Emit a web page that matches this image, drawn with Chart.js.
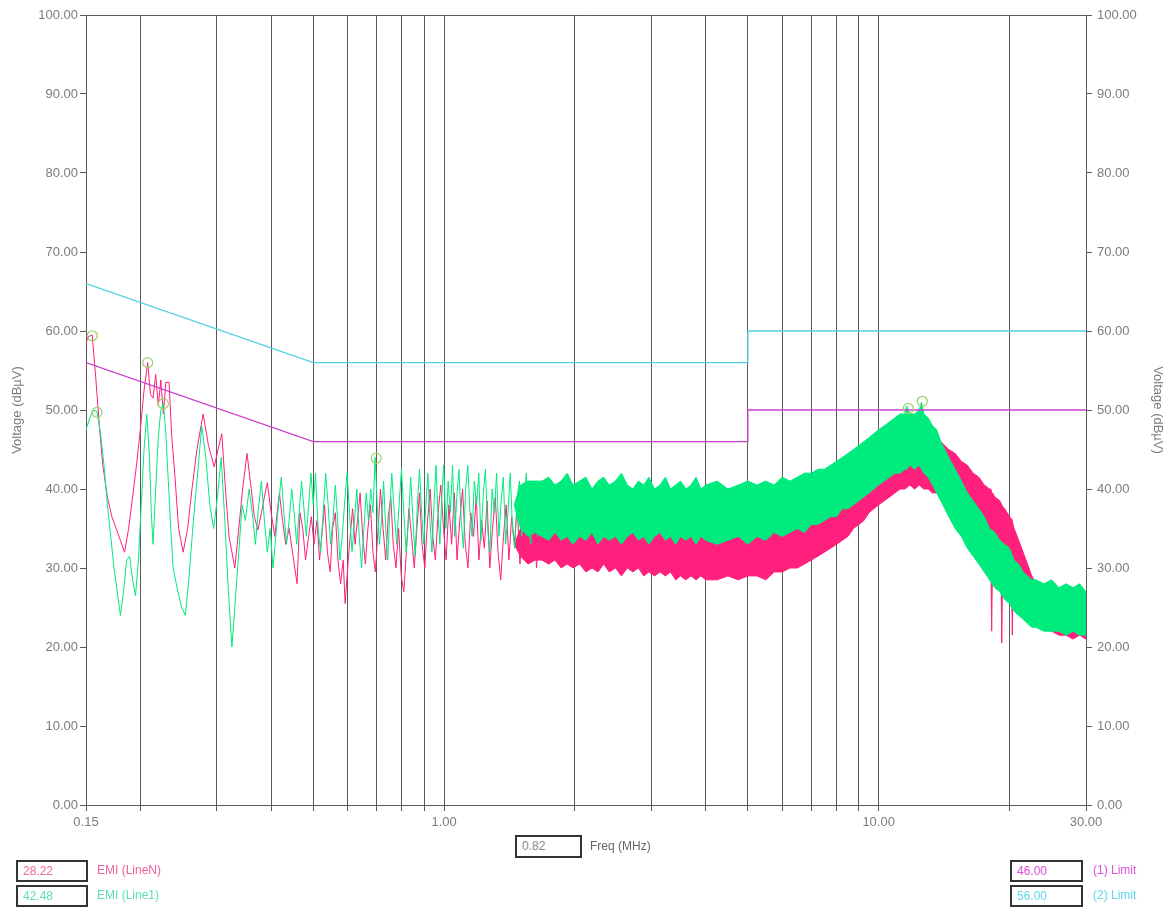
<!DOCTYPE html>
<html>
<head>
<meta charset="utf-8">
<script src="https://cdn.jsdelivr.net/npm/chart.js@4.4.1/dist/chart.umd.min.js"></script>
<style>
    body { margin: 0; background: #fff; overflow: hidden; }
    #wrap { position: relative; width: 1167px; height: 909px; }
    #grafico { position: absolute; left: 0; top: 0; }
    .box {
        position: absolute;
        box-sizing: border-box;
        border: 2px solid #333;
        background: #fff;
        font: 12px "Liberation Sans", Arial, sans-serif;
        padding: 2px 0 0 5px;
    }
    .txt {
        position: absolute;
        font: 12px "Liberation Sans", Arial, sans-serif;
    }
</style>
</head>
<body>
<div id="wrap">
    <canvas id="grafico" width="1167" height="909"></canvas>

    <div class="box" style="left:515px;top:835px;width:67px;height:23px;color:#888;">0.82</div>
    <div class="txt" style="left:590px;top:839px;color:#666;">Freq (MHz)</div>

    <div class="box" style="left:16px;top:860px;width:72px;height:22px;color:#f36aa0;">28.22</div>
    <div class="txt" style="left:97px;top:863px;color:#f0609a;">EMI (LineN)</div>
    <div class="box" style="left:16px;top:885px;width:72px;height:22px;color:#5fe0b0;">42.48</div>
    <div class="txt" style="left:97px;top:888px;color:#5fe0b0;">EMI (Line1)</div>

    <div class="box" style="left:1010px;top:860px;width:73px;height:22px;color:#e050e0;">46.00</div>
    <div class="txt" style="left:1093px;top:863px;color:#e050e0;">(1) Limit</div>
    <div class="box" style="left:1010px;top:885px;width:73px;height:22px;color:#60d8e8;">56.00</div>
    <div class="txt" style="left:1093px;top:888px;color:#60d8e8;">(2) Limit</div>
</div>

<script>
// eixo de frequencia (MHz) e niveis (dBuV)
const freqGrid = [0.15, 0.2, 0.3, 0.4, 0.5, 0.6, 0.7, 0.8, 0.9, 1, 2, 3, 4, 5, 6, 7, 8, 9, 10, 20, 30];
const freqLabels = [0.15, 1, 10, 30];
const levelTicks = [0, 10, 20, 30, 40, 50, 60, 70, 80, 90, 100];

// limites (1) media e (2) quase-pico
const limitAv = [[0.15, 56], [0.5, 46], [5, 46], [5, 50], [30, 50]];
const limitQp = [[0.15, 66], [0.5, 56], [5, 56], [5, 60], [30, 60]];

// marcadores de pico
const markerPeaks = [[0.155, 59.4], [0.159, 49.7], [0.208, 56], [0.226, 50.8], [0.698, 43.9], [11.7, 50.2], [12.6, 51.1]];

// EMI (LineN) - varredura ate 1.7 MHz
const traceN = [
    [0.150, 58.5], [0.152, 59.3], [0.155, 59.5], [0.158, 54], [0.161, 48], [0.164, 43], [0.168, 39], [0.172, 36.5], [0.176, 35], [0.180, 33.5],
    [0.184, 32], [0.188, 35], [0.192, 39], [0.196, 43], [0.200, 47.5], [0.204, 52.5], [0.208, 56], [0.211, 52], [0.214, 51.5], [0.217, 54.5],
    [0.220, 50.5], [0.223, 53.8], [0.226, 49.5], [0.229, 53.5], [0.233, 53.5], [0.236, 47], [0.240, 42], [0.245, 35], [0.251, 32], [0.257, 35],
    [0.263, 40], [0.270, 45], [0.279, 49.5], [0.287, 45.5], [0.296, 42.8], [0.302, 45], [0.308, 47], [0.314, 40], [0.320, 34], [0.330, 30],
    [0.337, 35], [0.344, 40], [0.352, 44.5], [0.360, 40], [0.366, 36.5], [0.373, 34.8], [0.380, 37], [0.386, 39], [0.392, 40.8], [0.400, 37],
    [0.408, 34], [0.413, 37], [0.418, 39.5], [0.425, 36], [0.432, 33], [0.440, 35], [0.448, 32], [0.459, 28], [0.466, 37], [0.473, 35],
    [0.480, 31], [0.488, 34], [0.495, 36.5], [0.502, 33],
    [0.510, 36], [0.517, 31], [0.524, 34.5], [0.531, 38], [0.539, 32], [0.547, 29.5], [0.554, 35], [0.562, 37], [0.570, 31], [0.578, 28],
    [0.586, 31], [0.592, 25.5], [0.600, 30], [0.608, 34], [0.616, 37.5], [0.624, 33], [0.632, 36], [0.641, 39.5], [0.650, 34], [0.659, 30.5],
    [0.668, 35], [0.677, 38], [0.686, 32], [0.695, 29.5], [0.705, 35], [0.714, 40], [0.724, 35], [0.734, 31], [0.744, 36.5], [0.754, 39],
    [0.764, 33], [0.775, 30], [0.786, 35], [0.797, 29], [0.808, 27], [0.819, 32], [0.830, 37.5], [0.842, 34], [0.854, 30], [0.866, 35],
    [0.878, 39.5], [0.890, 33], [0.903, 30], [0.916, 36], [0.929, 40], [0.942, 34], [0.955, 31], [0.969, 37], [0.983, 40.5], [0.997, 35],
    [1.011, 31], [1.026, 38], [1.041, 33], [1.056, 39.5], [1.071, 31], [1.087, 36], [1.103, 40], [1.119, 33], [1.135, 30], [1.152, 37],
    [1.169, 34], [1.186, 39], [1.203, 31], [1.220, 36], [1.238, 32.5], [1.256, 38.5], [1.274, 30], [1.293, 35], [1.312, 39], [1.331, 32],
    [1.350, 28.5], [1.370, 34], [1.390, 38], [1.410, 31], [1.431, 36.5], [1.452, 33], [1.473, 38], [1.495, 30.5], [1.517, 35], [1.539, 37.5],
    [1.562, 31], [1.585, 34], [1.608, 37], [1.632, 30], [1.656, 35], [1.680, 33]
];

// EMI (Line1) - varredura ate 1.7 MHz
const trace1 = [
    [0.150, 47.5], [0.153, 49], [0.156, 50], [0.159, 49.8], [0.162, 47], [0.165, 43], [0.168, 38], [0.171, 34], [0.174, 30], [0.177, 27],
    [0.180, 24], [0.183, 27], [0.186, 31], [0.189, 31.5], [0.192, 28.5], [0.195, 26.5], [0.198, 31], [0.201, 38], [0.204, 45], [0.207, 49.5],
    [0.210, 44], [0.212, 37], [0.214, 33], [0.217, 40], [0.220, 46.5], [0.223, 50], [0.226, 50.8], [0.229, 47], [0.232, 41], [0.235, 35],
    [0.238, 30], [0.243, 27.5], [0.249, 25], [0.254, 24], [0.259, 29], [0.265, 36], [0.271, 42], [0.277, 48], [0.283, 44], [0.289, 38],
    [0.295, 35], [0.301, 39], [0.307, 44], [0.313, 36], [0.319, 27], [0.325, 20], [0.331, 26], [0.337, 32], [0.343, 38], [0.349, 36],
    [0.356, 40], [0.362, 37], [0.368, 33], [0.374, 37.5], [0.380, 41], [0.386, 36], [0.392, 32], [0.398, 35], [0.404, 30], [0.410, 34],
    [0.416, 38], [0.422, 41.5], [0.428, 37], [0.434, 33], [0.440, 36], [0.446, 40], [0.452, 37], [0.458, 33], [0.464, 37], [0.470, 41],
    [0.476, 37.5], [0.482, 34], [0.488, 38], [0.494, 42], [0.500, 38],
    [0.506, 42], [0.513, 35], [0.520, 32], [0.527, 37], [0.534, 42], [0.541, 38], [0.548, 33], [0.555, 36], [0.562, 40.5], [0.569, 36],
    [0.576, 31], [0.583, 34], [0.590, 38], [0.598, 42], [0.606, 37], [0.614, 32], [0.622, 36], [0.630, 40], [0.638, 34], [0.646, 30],
    [0.654, 35], [0.662, 39.5], [0.670, 36], [0.678, 40], [0.686, 37], [0.694, 44], [0.702, 38], [0.710, 33], [0.718, 36], [0.726, 41],
    [0.734, 35], [0.742, 31], [0.750, 37], [0.758, 42], [0.768, 37], [0.778, 33], [0.788, 38], [0.798, 42.5], [0.808, 37], [0.818, 32],
    [0.828, 36], [0.838, 41.5], [0.848, 36], [0.858, 31.5], [0.868, 38], [0.878, 42.5], [0.888, 37], [0.898, 33], [0.908, 38], [0.918, 42],
    [0.928, 36], [0.938, 32], [0.948, 38], [0.958, 43], [0.968, 37], [0.978, 33], [0.988, 39], [0.998, 43],
    [1.010, 35], [1.022, 41], [1.034, 37], [1.046, 43], [1.058, 34], [1.070, 39], [1.082, 42.5], [1.095, 36], [1.108, 32.5], [1.121, 40],
    [1.134, 43], [1.147, 37], [1.160, 34], [1.174, 41], [1.188, 38], [1.202, 42], [1.216, 33.5], [1.230, 39], [1.245, 42.5], [1.260, 35],
    [1.275, 32], [1.290, 40], [1.305, 37], [1.321, 42], [1.337, 34], [1.353, 38.5], [1.369, 41.5], [1.386, 33], [1.403, 37], [1.420, 42],
    [1.437, 35], [1.455, 32.5], [1.473, 39], [1.491, 41], [1.509, 34], [1.527, 38], [1.546, 42], [1.565, 35], [1.584, 33], [1.603, 39.5],
    [1.622, 41], [1.642, 34], [1.662, 38], [1.682, 36]
];

// faixa densa acima de 1.45 MHz: [freq, minimo, maximo]
const bandN = [
    [1.45, 33, 33], [1.50, 31.5, 35], [1.56, 30.5, 36], [1.62, 31, 35.5],
    [1.68, 31, 35.5], [1.74, 30.5, 36], [1.80, 31, 35.5], [1.86, 30, 36], [1.92, 30.5, 35], [1.98, 30, 35.5], [2.05, 30.5, 36], [2.12, 29.5, 35.5],
    [2.19, 30, 35], [2.26, 29.5, 35.5], [2.33, 30.5, 35], [2.40, 29.5, 35.5], [2.48, 30, 35], [2.56, 29, 35.5], [2.64, 30, 34.5], [2.72, 29.5, 35],
    [2.80, 30, 35.5], [2.88, 29, 34.5], [2.96, 29.5, 35], [3.05, 29, 35], [3.14, 29.5, 34.5], [3.23, 29, 35], [3.32, 29.5, 34.5], [3.41, 28.5, 35],
    [3.50, 29, 34.5], [3.60, 28.5, 35], [3.70, 29, 34.5], [3.80, 28.5, 34.5], [3.90, 29, 35],
    [4.0, 28.5, 34.5], [4.25, 28.5, 35], [4.5, 29, 34.5], [4.75, 28.5, 35], [5.0, 29, 35], [5.25, 29, 35.5], [5.5, 28.5, 35], [5.75, 29.5, 35.5],
    [6.0, 29.5, 36], [6.25, 30, 36], [6.5, 30, 36.5], [6.75, 30.5, 36.5], [7.0, 31, 37], [7.25, 31.5, 37.5], [7.5, 32, 38], [7.75, 32.5, 38.5],
    [8.0, 33, 39], [8.25, 33.5, 39.5], [8.5, 34, 40], [8.75, 35, 40.5], [9.0, 35.5, 41], [9.25, 36, 41.5], [9.5, 37, 42], [9.75, 37.5, 43],
    [10.0, 38, 43.5], [10.3, 38.5, 44.5], [10.6, 39, 45], [10.9, 39.5, 46], [11.2, 40, 46], [11.5, 40, 47.5], [11.8, 40.5, 46.5], [12.1, 40, 47.5],
    [12.4, 40.5, 46.5], [12.7, 40, 47], [13.0, 40, 46.5], [13.3, 39.5, 46.5], [13.6, 39.5, 46], [13.9, 39, 46], [14.2, 38.5, 45.5], [14.5, 38, 45],
    [15.0, 37, 44.5], [15.5, 36, 43.5], [16.0, 35, 43], [16.5, 34, 42], [17.0, 33, 41.5], [17.5, 32.5, 40.5], [18.0, 31.5, 40], [18.12, 31.5, 40],
    [18.2, 22, 39.5], [18.28, 31, 39.5], [18.5, 31, 39], [19.0, 30, 38.5], [19.12, 30, 38.2], [19.2, 20.5, 38], [19.28, 29.8, 37.8], [19.5, 29.5, 37.5],
    [20.0, 28.5, 36.5], [20.22, 28.3, 36.2], [20.3, 21.5, 36], [20.38, 28, 35.5], [20.5, 28, 35], [21.0, 27, 33.5],
    [21.5, 26, 32], [22.0, 25, 30.5], [22.5, 24, 29], [23.0, 23.5, 28], [23.5, 23, 27], [24.0, 22.5, 26.5], [25.0, 22, 26], [26.0, 21.5, 25.5],
    [27.0, 21.5, 25], [28.0, 21, 25], [29.0, 21.5, 25], [30.0, 21, 24.5]
];

const band1 = [
    [1.45, 38, 38], [1.50, 35, 40.5], [1.56, 34, 41], [1.62, 34.5, 41],
    [1.68, 34, 41], [1.74, 33.5, 41.5], [1.80, 34.5, 40.5], [1.86, 33.5, 41], [1.92, 34, 42], [1.98, 33, 40.5], [2.05, 34, 41], [2.12, 33.5, 41.5],
    [2.19, 34.5, 40], [2.26, 33, 41], [2.33, 34, 41.5], [2.40, 33.5, 40.5], [2.48, 34, 41], [2.56, 33, 42], [2.64, 34, 40.5], [2.72, 34.5, 40],
    [2.80, 33.5, 41], [2.88, 34, 40.5], [2.96, 33, 41.5], [3.05, 34, 40], [3.14, 34.5, 40.5], [3.23, 33.5, 41.5], [3.32, 34, 40], [3.41, 33, 40.5],
    [3.50, 34, 41], [3.60, 33.5, 40], [3.70, 34, 40.5], [3.80, 33, 41.5], [3.90, 34, 40],
    [4.0, 33.5, 40.5], [4.25, 33, 41], [4.5, 33.5, 40], [4.75, 34, 40.5], [5.0, 33, 41], [5.25, 34, 40.5], [5.5, 33.5, 41], [5.75, 34.5, 40.5],
    [6.0, 34, 41.5], [6.25, 34.5, 41], [6.5, 35, 41.5], [6.75, 34.5, 42], [7.0, 35.5, 42], [7.25, 35.5, 42.5], [7.5, 36, 42.5], [7.75, 36.5, 43],
    [8.0, 36.5, 43.5], [8.25, 37.5, 44], [8.5, 37.5, 44.5], [8.75, 38, 45], [9.0, 38.5, 45.5], [9.25, 39, 46], [9.5, 39.5, 46.5], [9.75, 40, 47],
    [10.0, 40.5, 47.5], [10.3, 41, 48], [10.6, 41.5, 48.5], [10.9, 42, 49], [11.2, 42, 49.5], [11.5, 42.5, 49.5], [11.6, 42.5, 50.5], [11.8, 43, 49.5],
    [12.1, 42.5, 49.5], [12.4, 43, 50], [12.55, 42.5, 51], [12.7, 42, 49.5], [13.0, 41.5, 49], [13.3, 40.5, 48], [13.6, 39.5, 47.5], [13.9, 38.5, 46],
    [14.2, 37.5, 45], [14.5, 36.5, 44], [15.0, 35, 42.5], [15.5, 34, 41], [16.0, 32.5, 39.5], [16.5, 31.5, 38.5], [17.0, 30.5, 37.5], [17.5, 29.5, 36.5],
    [18.0, 28.5, 35], [18.5, 27.5, 34.5], [19.0, 27, 33.5], [19.5, 26, 33], [20.0, 25.5, 32.5], [20.5, 24.5, 31], [21.0, 24, 30.5], [21.5, 23.5, 29.5],
    [22.0, 23, 29], [22.5, 22.5, 28.5], [23.0, 22.5, 28.5], [24.0, 22, 28], [25.0, 22, 28.5], [26.0, 22, 27.5], [27.0, 21.5, 28], [28.0, 22, 27.5],
    [29.0, 21.5, 28], [30.0, 21.5, 27]
];

const corLinhaN = '#ff1f7c';
const corLinha1 = '#00eb7e';
const corGrade = '#5a5a5a';
const corTexto = '#7c7c7c';
const fonte = { family: '"Liberation Sans", Arial, sans-serif', size: 13 };

function pontos(pares, col) {
    return pares.map(p => ({ x: p[0], y: p[col === undefined ? 1 : col] }));
}

function linha(dados, cor, ordem, extra) {
    return Object.assign({
        data: dados,
        borderColor: cor,
        backgroundColor: cor,
        borderWidth: 1,
        pointRadius: 0,
        tension: 0,
        fill: false,
        order: ordem
    }, extra || {});
}

const datasets = [
    linha(pontos(limitAv), '#cc3fcc', 0, { borderWidth: 1.3 }),
    linha(pontos(limitQp), '#52cfe0', 0, { borderWidth: 1.3 }),
    linha(pontos(markerPeaks), '#9ccf6a', -1, {
        showLine: false,
        pointRadius: 5,
        pointStyle: 'circle',
        pointBorderColor: '#9ccf6a',
        pointBackgroundColor: 'rgba(0,0,0,0)',
        pointBorderWidth: 1.2
    }),
    linha(pontos(traceN), corLinhaN, 4),
    linha(pontos(bandN, 1), corLinhaN, 4),
    linha(pontos(bandN, 2), corLinhaN, 4, { fill: '-1' }),
    linha(pontos(trace1), corLinha1, 2),
    linha(pontos(band1, 1), corLinha1, 2),
    linha(pontos(band1, 2), corLinha1, 2, { fill: '-1' })
];

function eixoY(posicao, largura, tituloPad) {
    return {
        type: 'linear',
        position: posicao,
        min: 0,
        max: 100,
        afterBuildTicks: s => { s.ticks = levelTicks.map(v => ({ value: v })); },
        afterFit: s => { s.width = largura; },
        grid: {
            drawOnChartArea: posicao === 'left',
            color: c => (c.tick && c.tick.value === 100) ? corGrade : 'rgba(0,0,0,0)',
            tickColor: corGrade,
            tickLength: 6
        },
        border: { display: true, color: corGrade, width: 1 },
        ticks: {
            color: corTexto,
            font: fonte,
            padding: posicao === 'left' ? 2 : 5,
            callback: v => Number(v).toFixed(2)
        },
        title: {
            display: true,
            text: 'Voltage (dBµV)',
            color: corTexto,
            font: fonte,
            padding: { top: tituloPad, bottom: 0 }
        }
    };
}

new Chart(document.getElementById('grafico'), {
    type: 'line',
    data: { datasets: datasets },
    options: {
        responsive: false,
        animation: false,
        layout: { padding: { top: 15, left: 0, right: 0, bottom: 0 } },
        plugins: {
            legend: { display: false },
            tooltip: { enabled: false }
        },
        scales: {
            x: {
                type: 'logarithmic',
                min: 0.15,
                max: 30,
                afterBuildTicks: s => { s.ticks = freqGrid.map(v => ({ value: v })); },
                afterFit: s => { s.height = 104; },
                grid: { color: corGrade, tickColor: corGrade, tickLength: 6 },
                border: { color: corGrade },
                ticks: {
                    autoSkip: false,
                    maxRotation: 0,
                    color: corTexto,
                    font: fonte,
                    padding: 4,
                    callback: v => freqLabels.includes(Number(v)) ? Number(v).toFixed(2) : ''
                }
            },
            y: eixoY('left', 86, 10),
            y2: eixoY('right', 81, 2)
        }
    }
});
</script>
</body>
</html>
